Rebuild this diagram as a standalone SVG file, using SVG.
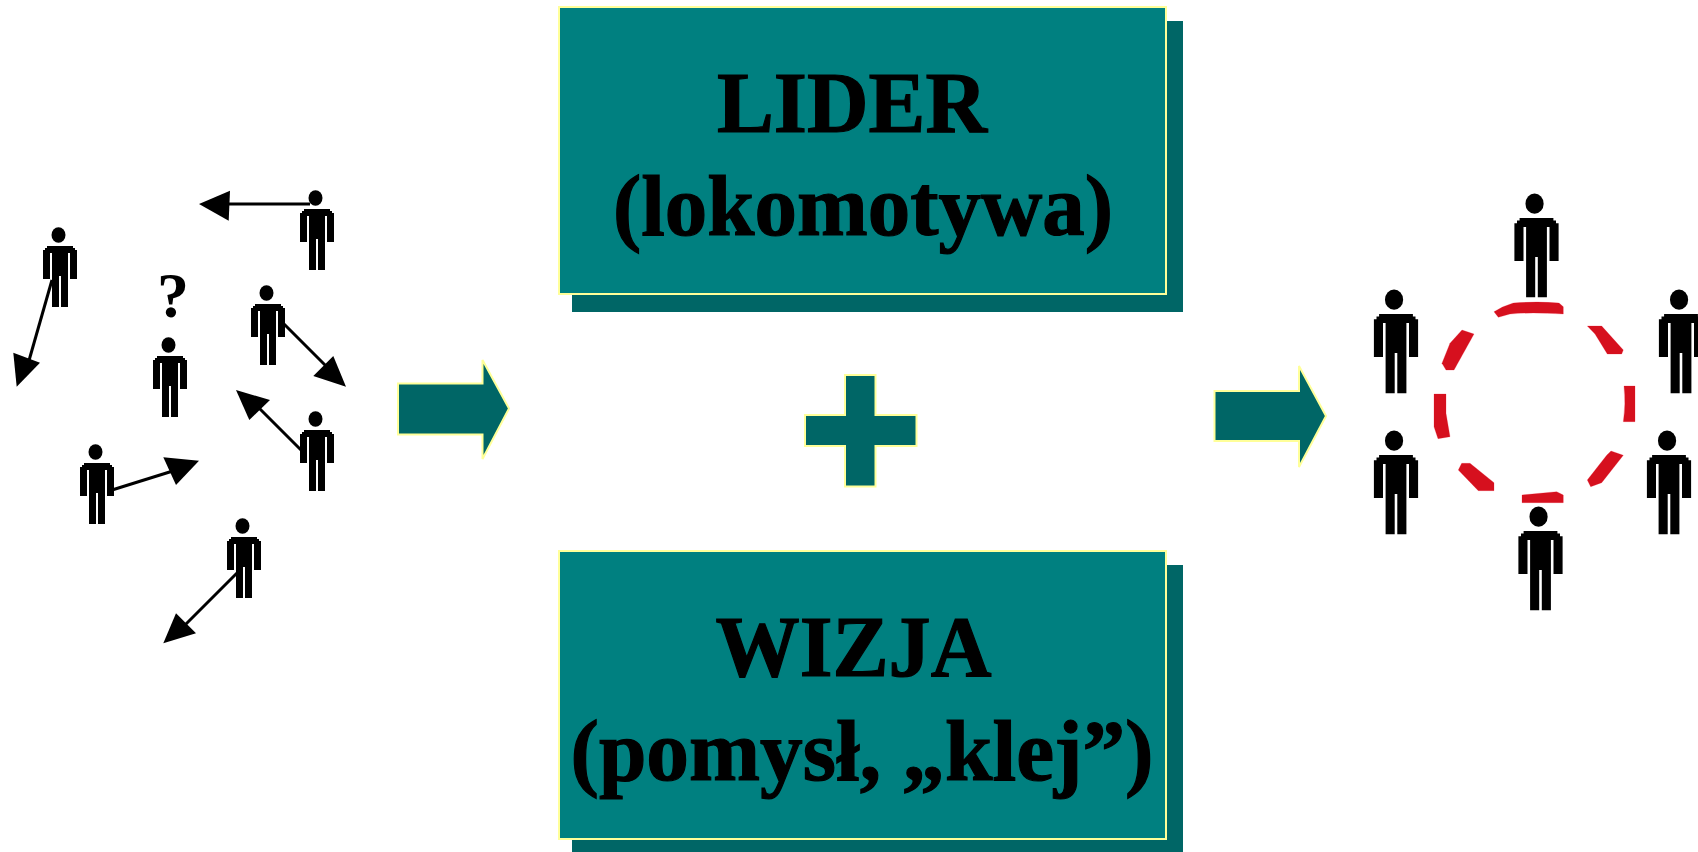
<svg xmlns="http://www.w3.org/2000/svg" width="1698" height="852" viewBox="0 0 1698 852">
<style>
.box{fill:#008080;stroke:#ffff99;stroke-width:2}
.sh{fill:#006666}
.ar{fill:#006666;stroke:#ffff99;stroke-width:2}
.t{font-family:"Liberation Serif","Times New Roman",serif;font-weight:700;font-size:87px;fill:#000;stroke:#000;stroke-width:1.200;text-anchor:middle}
.ln{stroke:#000;stroke-width:3;fill:none}
.hd{fill:#000}
.red{fill:#d6101e;stroke:#ffc8d0;stroke-width:1;paint-order:stroke}
</style>
<defs>
<g id="person"><ellipse cx="-1.500" cy="-11" rx="7" ry="7.800" fill="#000"/><path fill="#000" d="M-13 0H13V2H15V4H17V33H10V7H8V61H1V30H-1V61H-8V7H-10V33H-17V4H-15V2H-13Z"/></g>
</defs>
<rect width="1698" height="852" fill="#fff"/>
<g id="node-lider"><rect class="sh" x="572" y="21" width="611" height="291"/><rect class="box" x="559" y="7" width="607" height="287"/><text class="t" x="852" y="132" textLength="270" lengthAdjust="spacingAndGlyphs">LIDER</text><text class="t" x="863" y="235" textLength="500" lengthAdjust="spacingAndGlyphs">(lokomotywa)</text></g>
<g id="node-wizja"><rect class="sh" x="572" y="565" width="611" height="287"/><rect class="box" x="559" y="551" width="607" height="288"/><text class="t" x="853.500" y="676" textLength="276" lengthAdjust="spacingAndGlyphs">WIZJA</text><text class="t" x="862" y="780" textLength="583" lengthAdjust="spacingAndGlyphs">(pomysł, „klej”)</text></g>
<g id="node-plus"><path class="ar" d="M845 375H875.500V415H916.500V446H875.500V486.500H845V446H805V415H845Z"/></g>
<g id="node-arrow-left"><path class="ar" d="M398 383.500H482.500V360L509 408.500L482.500 459V434.500H398Z"/></g>
<g id="node-arrow-right"><path class="ar" d="M1214.500 391H1299V366L1326 416L1299 467V441H1214.500Z"/></g>
<g id="people-left">
<g id="p1"><use href="#person" x="60" y="246"/></g>
<g id="p2"><use href="#person" x="317" y="209"/></g>
<g id="p3"><use href="#person" x="170" y="356"/></g>
<g id="p4"><use href="#person" x="268" y="304"/></g>
<g id="p5"><use href="#person" x="317" y="430"/></g>
<g id="p6"><use href="#person" x="97" y="463"/></g>
<g id="p7"><use href="#person" x="244" y="537"/></g>
<text x="173" y="317" font-family="'Liberation Serif',serif" font-weight="700" font-size="64" fill="#000" text-anchor="middle">?</text>
</g>
<g id="connectors">
<path class="ln" d="M225 204H310"/><polygon class="hd" points="199,204 230,190.700 228.700,220.700"/>
<path class="ln" d="M52 280L28 364"/><polygon class="hd" points="13.300,352.700 40,362.700 16.700,386.700"/>
<path class="ln" d="M284 324L326 366"/><polygon class="hd" points="333.300,356 313.300,376 346,386.700"/>
<path class="ln" d="M301 450L257 406"/><polygon class="hd" points="236,390 270,400 249.300,420"/>
<path class="ln" d="M112 490L176 470"/><polygon class="hd" points="163.300,457.300 199,460.700 176,485"/>
<path class="ln" d="M237 573L182 628"/><polygon class="hd" points="176,613.300 196,633.300 163.300,643.300"/>
</g>
<g id="people-right">
<g id="r1"><use href="#person" transform="translate(1536.500 218) scale(1.3)"/></g>
<g id="r2"><use href="#person" transform="translate(1396 314) scale(1.3)"/></g>
<g id="r3"><use href="#person" transform="translate(1681 314) scale(1.3)"/></g>
<g id="r4"><use href="#person" transform="translate(1396 455) scale(1.3)"/></g>
<g id="r5"><use href="#person" transform="translate(1669 455) scale(1.3)"/></g>
<g id="r6"><use href="#person" transform="translate(1540.500 531) scale(1.3)"/></g>
</g>
<g id="ring">
<path class="red" d="M1494 311.700Q1503 306 1513.300 303Q1538 301 1559 303L1563.300 306.700V314Q1530 312 1510 314L1498.300 317.300Z"/>
<path class="red" d="M1587.300 326H1601.700L1623.300 350L1621.700 354H1607.300L1595 334Z"/>
<path class="red" d="M1624 386H1635V421.700H1623.300Q1626 404 1624 386Z"/>
<path class="red" d="M1611 451L1623.300 455.300L1601.700 482.700L1590.700 486.700L1587.300 480L1606.700 455.300Z"/>
<path class="red" d="M1522 495L1556.700 491.700L1563.300 495V502.700H1522Z"/>
<path class="red" d="M1461.700 463.300H1470L1494 482.700V490.700H1478.300L1458.300 470Z"/>
<path class="red" d="M1434 394H1446V413.300L1450 436.700L1438 438.700L1434 426.700Z"/>
<path class="red" d="M1462 330L1474 334L1454 370H1446L1442 363.300L1450 343.300Z"/>
</g>
</svg>
